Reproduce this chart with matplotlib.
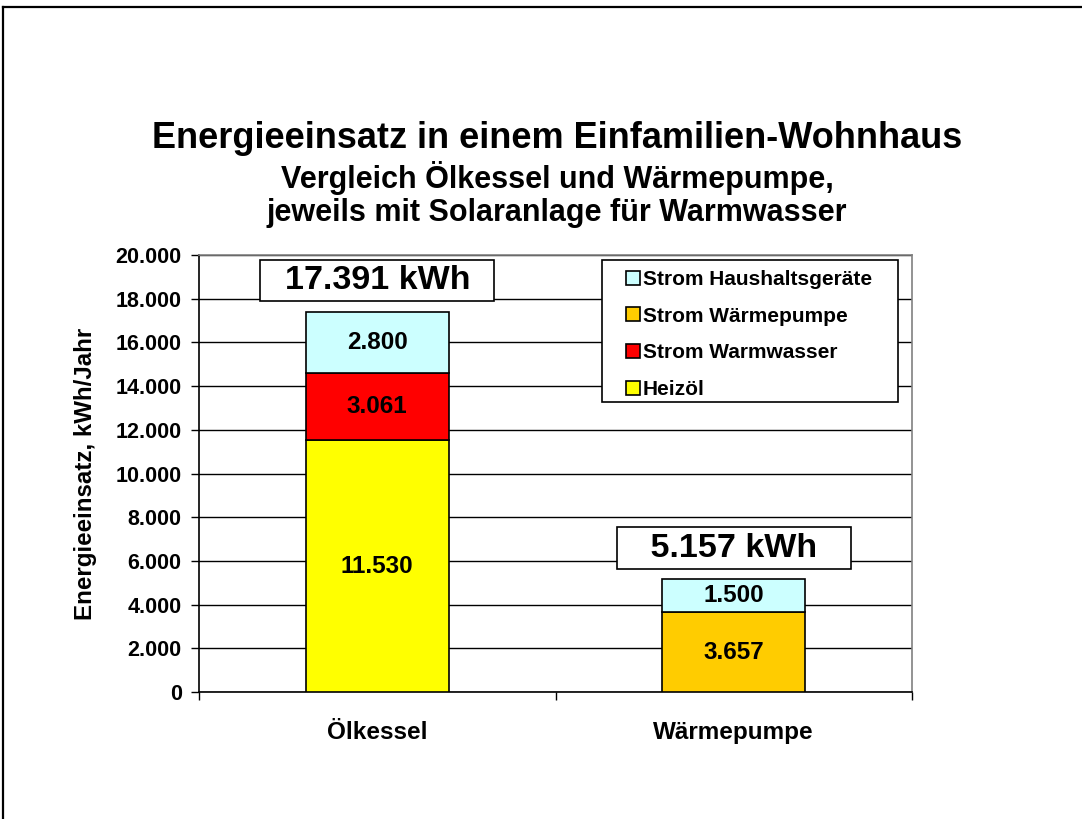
import matplotlib
matplotlib.use("Agg")
import matplotlib.pyplot as plt
from matplotlib.lines import Line2D
from matplotlib.patches import Rectangle
from matplotlib.ticker import FuncFormatter, FixedLocator

plt.rcParams['font.family'] = ['Liberation Sans', 'DejaVu Sans']
plt.rcParams['font.weight'] = 'bold'

# data
anlagen = ["Ölkessel", "Wärmepumpe"]
heizoel = [11530, 0]
strom_warmwasser = [3061, 0]
strom_waermepumpe = [0, 3657]
strom_haushalt = [2800, 1500]
summen = [17391, 5157]

serien = [
    ("Heizöl", heizoel, "#FFFF00"),
    ("Strom Warmwasser", strom_warmwasser, "#FF0000"),
    ("Strom Wärmepumpe", strom_waermepumpe, "#FFCC00"),
    ("Strom Haushaltsgeräte", strom_haushalt, "#CCFFFF"),
]


def de(v):
    return f"{int(v):,}".replace(",", ".")


W, H = 1082, 819
fig = plt.figure(figsize=(W / 100, H / 100), dpi=100)
ax = fig.add_axes([199 / W, 1 - 692 / H, (912 - 199) / W, (692 - 255) / H])

# stacked bars, segments with value 0 are skipped
x = list(range(len(anlagen)))
boden = [0] * len(anlagen)
handles = {}
for name, werte, farbe in serien:
    for i, v in enumerate(werte):
        if v <= 0:
            continue
        b = ax.bar(x[i], v, bottom=boden[i], width=0.4, color=farbe,
                   edgecolor="black", linewidth=1.2, zorder=3)
        handles[name] = b
        ax.text(x[i], boden[i] + v / 2, de(v),
                ha="center", va="center", fontsize=17.5, fontweight="bold", zorder=4)
        boden[i] += v

# totals in white boxes above the bars, boxes kept the same width
texte = [f"{de(s)} kWh" for s in summen]
breite = max(len(t) for t in texte)
for i, s in enumerate(summen):
    rand = " " * (2 + breite - len(texte[i]))
    ax.annotate(rand + texte[i] + rand, xy=(x[i], s), xytext=(0, 22.5),
                textcoords="offset points", ha="center", va="center",
                fontsize=24.5, fontweight="bold", zorder=5,
                bbox=dict(boxstyle="square,pad=0.15", fc="white", ec="black", lw=1.2))

ax.set_xlim(-0.5, 1.5)
ax.set_ylim(0, 20000)
ax.set_yticks(range(0, 20001, 2000))
ax.yaxis.set_major_formatter(FuncFormatter(lambda v, p: de(v)))
ax.grid(axis="y", color="black", linewidth=1.0, zorder=0)
ax.set_axisbelow(True)
ax.tick_params(axis="y", direction="out", length=6, width=1, pad=6.5, labelsize=15.5)

# category boundaries as major ticks, names on minor ticks
ax.xaxis.set_major_locator(FixedLocator([-0.5, 0.5, 1.5]))
ax.xaxis.set_major_formatter(FuncFormatter(lambda v, p: ""))
ax.xaxis.set_minor_locator(FixedLocator(x))
ax.set_xticklabels(anlagen, minor=True)
ax.tick_params(axis="x", which="major", direction="out", length=6, width=1)
ax.tick_params(axis="x", which="minor", length=0, pad=21, labelsize=17.5)

for side in ("top", "right"):
    ax.spines[side].set_color("#808080")
    ax.spines[side].set_linewidth(1.2)
for side in ("left", "bottom"):
    ax.spines[side].set_color("black")
    ax.spines[side].set_linewidth(1.2)

ax.set_ylabel("Energieeinsatz, kWh/Jahr", fontsize=17.4, fontweight="bold")
ax.yaxis.set_label_coords(-0.143, 0.5)

# legend box, drawn separately so its padding can be set freely
fig.add_artist(Rectangle((602 / W, 1 - 402 / H), (898 - 602) / W, (402 - 260) / H,
                         transform=fig.transFigure, fc="white", ec="black",
                         lw=1.2, zorder=2))
reihenfolge = ["Strom Haushaltsgeräte", "Strom Wärmepumpe", "Strom Warmwasser", "Heizöl"]
leg = fig.legend([handles[n] for n in reihenfolge], reihenfolge,
                 loc="upper left", bbox_to_anchor=(626 / W, 1 - 270 / H),
                 borderaxespad=0, borderpad=0, fontsize=15, frameon=False,
                 handlelength=0.65, handleheight=0.65, handletextpad=0.15,
                 labelspacing=0.85)
leg.set_zorder(3)
for t in leg.get_texts():
    t.set_fontweight("bold")

# title lines
fig.text(557 / W, 1 - 138 / H, "Energieeinsatz in einem Einfamilien-Wohnhaus",
         ha="center", va="center", fontsize=26, fontweight="bold")
fig.text(557 / W, 1 - 178 / H, "Vergleich Ölkessel und Wärmepumpe,",
         ha="center", va="center", fontsize=22, fontweight="bold")
fig.text(557 / W, 1 - 213 / H, "jeweils mit Solaranlage für Warmwasser",
         ha="center", va="center", fontsize=22, fontweight="bold")

# outer frame (top and left edge)
fig.add_artist(Line2D([3 / W, 1], [1 - 7 / H, 1 - 7 / H], color="black", lw=1.6))
fig.add_artist(Line2D([3 / W, 3 / W], [0, 1 - 7 / H], color="black", lw=1.6))

fig.savefig("out.png", dpi=100)
